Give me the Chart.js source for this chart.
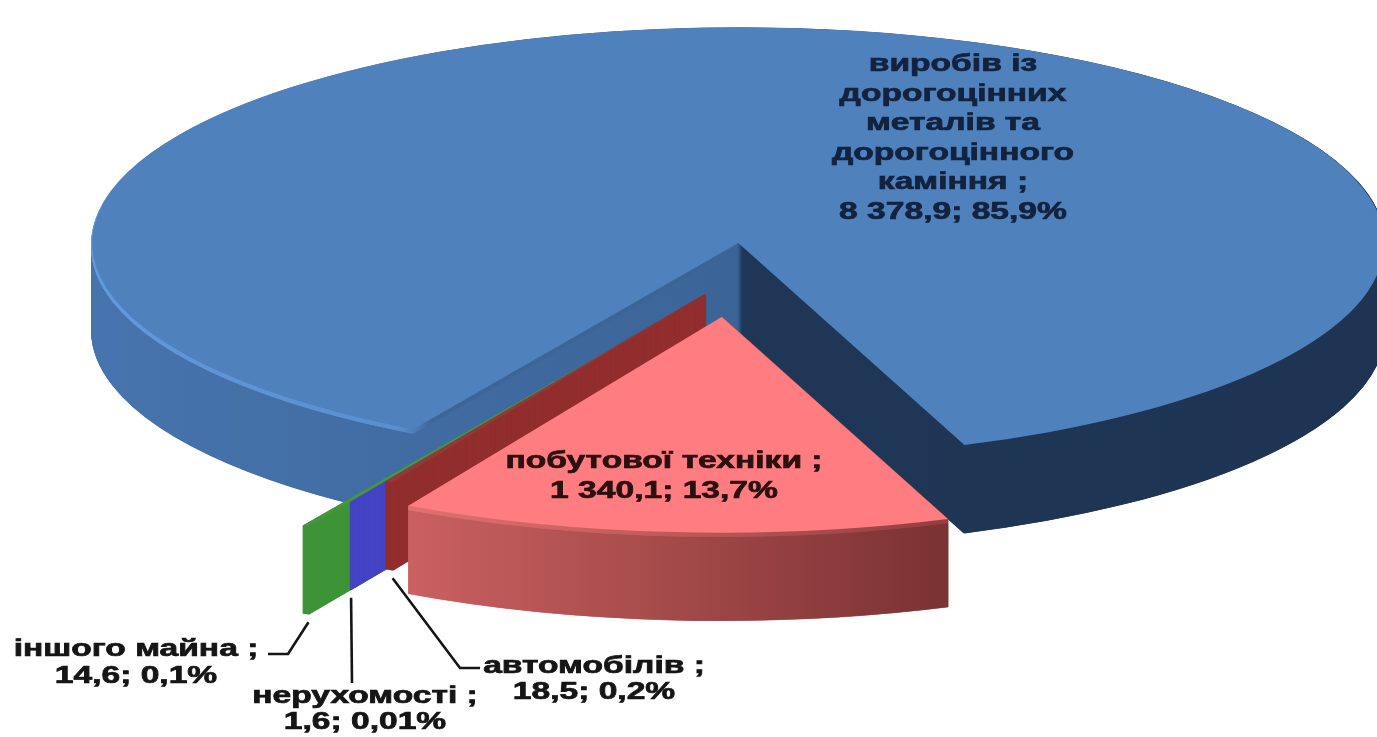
<!DOCTYPE html>
<html>
<head>
<meta charset="utf-8">
<script src="https://cdn.jsdelivr.net/npm/chart.js@4/dist/chart.umd.min.js"></script>
<style>
    html, body { margin: 0; padding: 0; background: #ffffff; }
    canvas { display: block; }
</style>
</head>
<body>
<canvas id="pieChart" width="1377" height="737"></canvas>
<script>
// values
const categories = ['виробів із дорогоцінних металів та дорогоцінного каміння', 'побутової техніки', 'автомобілів', 'нерухомості', 'іншого майна'];
const amounts = [8378.9, 1340.1, 18.5, 1.6, 14.6];
const shareLabels = ['85,9%', '13,7%', '0,2%', '0,01%', '0,1%'];

// look of the 3d pie
const topColors = ['#4F81BD', '#FF7C80', '#953735', '#4848C8', '#46963C'];
const flatSideColors = [null, null, '#922F2E', '#4444C4', '#3F9439'];
const explode = [15, 207, 140, 209, 293];
const explodeDir = [null, null, 103, 108.5, 111.7];
const drawOrder = [0, 4, 3, 2, 1];
const tilt = 0.334;
const depth = 88;
const rimDepth = 4;

// label layout
const labelPos = [[953, 65], [664, 462], [594, 667], [365, 697], [136, 650]];
const lineGap = [29.5, 30, 25.5, 26, 27];
const wrapWidth = [250, 480, 480, 480, 480];
const textColors = ['#13223d', '#2a1010', '#151515', '#151515', '#151515'];
const leaderEnds = [null, null, [[460, 668], [480, 668]], [[352, 683]], [[288, 654], [268, 654]]];
const textStretch = 1.46;
const labelFont = 'bold 23px "Liberation Sans", Arial, sans-serif';

function formatAmount(v) {
    const parts = v.toFixed(1).split('.');
    return parts[0].replace(/\B(?=(\d{3})+(?!\d))/g, ' ') + ',' + parts[1];
}

function sliceDir(arc, i) {
    return explodeDir[i] !== null ? explodeDir[i] * Math.PI / 180 : (arc.startAngle + arc.endAngle) / 2;
}

function hGradient(ctx, x0, x1, stops) {
    const g = ctx.createLinearGradient(x0, 0, x1, 0);
    stops.forEach(s => g.addColorStop(s[0], s[1]));
    return g;
}

const pie3d = {
    id: 'pie3d',
    beforeDatasetsDraw(chart) {
        const ctx = chart.ctx;
        const arcs = chart.getDatasetMeta(0).data;
        const cx = arcs[0].x, cy = arcs[0].y;

        const sideColors = flatSideColors.slice();
        sideColors[0] = hGradient(ctx, 90, 1377, [[0, '#4774AE'], [0.47, '#3C6598'], [0.502, '#3A6496'], [0.506, '#1F3656'], [1, '#1E3452']]);
        sideColors[1] = hGradient(ctx, 410, 950, [[0, '#CC6262'], [0.5, '#A54A4A'], [1, '#7C3333']]);
        const rimColors = sideColors.slice();
        rimColors[0] = hGradient(ctx, 90, 1377, [[0, '#6199DB'], [0.24, '#5A8FCF'], [0.265, '#3C6598'], [0.502, '#3A6496'], [0.506, '#1F3656'], [1, '#1E3452']]);
        rimColors[1] = hGradient(ctx, 410, 950, [[0, '#E27272'], [0.5, '#C05A5A'], [1, '#944040']]);

        const place = (i, dy) => {
            const a = arcs[i];
            const dir = sliceDir(a, i);
            ctx.translate(0, dy);
            ctx.translate(cx, cy);
            ctx.scale(1, tilt);
            ctx.translate(-cx, -cy);
            ctx.translate(Math.cos(dir) * explode[i], Math.sin(dir) * explode[i]);
        };
        const paint = (i, color, border) => {
            const a = arcs[i];
            const saved = a.options;
            a.options = Object.assign({}, saved, {
                backgroundColor: color,
                borderColor: color,
                borderWidth: border
            });
            a.draw(ctx);
            a.options = saved;
        };

        // walls: each slice stacked down from its top face, back to front
        for (const i of drawOrder) {
            for (let d = depth; d >= 0.5; d -= 0.5) {
                ctx.save();
                place(i, d);
                paint(i, d <= rimDepth ? rimColors[i] : sideColors[i], 2);
                ctx.restore();
            }
        }
        for (const i of drawOrder) {
            ctx.save();
            place(i, 0);
            paint(i, topColors[i], 0);
            ctx.restore();
        }
        return false;
    }
};

const sliceLabels = {
    id: 'sliceLabels',
    afterDraw(chart) {
        const ctx = chart.ctx;
        const arcs = chart.getDatasetMeta(0).data;
        const cx = arcs[0].x, cy = arcs[0].y;
        ctx.save();
        ctx.font = labelFont;
        ctx.textAlign = 'center';
        ctx.textBaseline = 'middle';

        // leader lines from the outer bottom corner of the small slices
        ctx.strokeStyle = '#151515';
        ctx.lineWidth = 2.6;
        arcs.forEach((a, i) => {
            if (!leaderEnds[i]) return;
            const dir = sliceDir(a, i);
            const r = a.outerRadius;
            const sx = cx + Math.cos(dir) * explode[i] + Math.cos(a.startAngle) * r;
            const sy = cy + tilt * (Math.sin(dir) * explode[i] + Math.sin(a.startAngle) * r) + depth + 8;
            ctx.beginPath();
            ctx.moveTo(sx, sy);
            leaderEnds[i].forEach(p => ctx.lineTo(p[0], p[1]));
            ctx.stroke();
        });

        arcs.forEach((a, i) => {
            const words = (categories[i] + ' ;').split(' ');
            const lines = [];
            let cur = '';
            words.forEach(w => {
                const test = cur ? cur + ' ' + w : w;
                if (cur && ctx.measureText(test).width * textStretch > wrapWidth[i] && w !== ';') {
                    lines.push(cur);
                    cur = w;
                } else {
                    cur = test;
                }
            });
            lines.push(cur);
            lines.push(formatAmount(amounts[i]) + '; ' + shareLabels[i]);

            ctx.fillStyle = textColors[i];
            ctx.strokeStyle = textColors[i];
            ctx.lineWidth = 0.7;
            lines.forEach((t, k) => {
                ctx.save();
                ctx.translate(labelPos[i][0], labelPos[i][1] + k * lineGap[i]);
                ctx.scale(textStretch, 1);
                ctx.fillText(t, 0, 0);
                ctx.strokeText(t, 0, 0);
                ctx.restore();
            });
        });
        ctx.restore();
    }
};

const ctx = document.getElementById('pieChart').getContext('2d');
new Chart(ctx, {
    type: 'pie',
    data: {
        labels: categories,
        datasets: [{
            data: amounts,
            backgroundColor: topColors,
            borderWidth: 0,
            radius: 646
        }]
    },
    options: {
        responsive: false,
        animation: false,
        rotation: 210.25,
        layout: { padding: { left: 97, right: 0, top: 0, bottom: 241 } },
        plugins: {
            legend: { display: false },
            tooltip: { enabled: false }
        }
    },
    plugins: [pie3d, sliceLabels]
});
</script>
</body>
</html>
